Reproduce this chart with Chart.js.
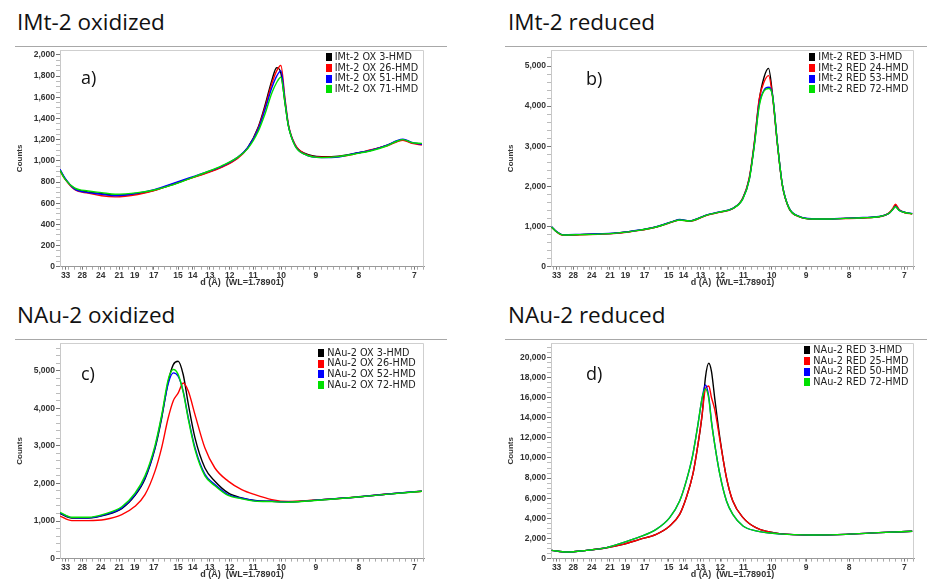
<!DOCTYPE html>
<html><head><meta charset="utf-8">
<script src="https://cdn.jsdelivr.net/npm/chart.js@4.4.0/dist/chart.umd.min.js"></script>
<style>
body{margin:0;background:#fff;width:927px;height:580px;overflow:hidden;position:relative;font-family:'Open Sans',sans-serif}
.title{position:absolute;font-size:22.5px;line-height:1;color:#111;white-space:nowrap}
.rule{position:absolute;height:0;border-top:1.5px solid #a8a8a8}
canvas{position:absolute}
.tag{position:absolute;font-size:18px;line-height:1;color:#111}
.legend{position:absolute;font-family:'DejaVu Sans',sans-serif;font-size:9.7px;color:#222}
.legend div{height:10.7px;line-height:10.7px;white-space:nowrap;display:flex;align-items:center}
.legend span.sw{display:inline-block;width:6px;height:8px;margin-right:3px}
</style></head><body>
<script>
// ---------------- data ----------------
const WL = 1.78901;
const dTickLabels = [33, 28, 24, 21, 19, 17, 15, 14, 13, 12, 11, 10, 9, 8, 7];
const seriesColors = ['#000000', '#ff0000', '#0000ff', '#00e000'];

// a) IMt-2 oxidized  (x = degrees 2-theta)
const namesA = ['IMt-2 OX 3-HMD', 'IMt-2 OX 26-HMD', 'IMt-2 OX 51-HMD', 'IMt-2 OX 71-HMD'];
const twoThetaA = [2.92,3.08,3.4,3.85,4.3,4.75,5.5,6.05,6.6,7.2,7.7,8.3,8.8,9.15,9.5,9.72,9.95,10.11,10.25,10.39,10.5,10.72,11.05,11.6,12.15,12.7,13.25,13.8,14.1,14.3,14.6,14.93];
const countsA3  = [915,835,740,705,690,675,690,722,770,832,880,945,1025,1125,1320,1520,1760,1880,1830,1540,1330,1150,1070,1040,1045,1070,1100,1150,1185,1200,1170,1160];
const countsA26 = [905,830,730,695,670,660,682,718,775,830,875,940,1020,1120,1310,1500,1730,1850,1900,1580,1345,1155,1065,1035,1040,1065,1105,1145,1180,1195,1165,1150];
const countsA51 = [920,840,735,700,685,670,695,728,780,838,885,950,1030,1125,1300,1480,1690,1800,1850,1560,1335,1145,1060,1030,1035,1070,1100,1150,1190,1205,1175,1155];
const countsA71 = [910,830,745,715,700,685,700,725,768,830,885,955,1030,1115,1280,1440,1640,1740,1790,1540,1330,1140,1060,1030,1040,1065,1095,1145,1185,1200,1172,1165];
const yTicksA = [0,200,400,600,800,1000,1200,1400,1600,1800,2000];

// b) IMt-2 reduced
const namesB = ['IMt-2 RED 3-HMD', 'IMt-2 RED 24-HMD', 'IMt-2 RED 53-HMD', 'IMt-2 RED 72-HMD'];
const twoThetaB = [2.94,3.11,3.33,3.88,4.5,4.99,5.5,5.87,6.3,6.64,7.0,7.2,7.53,8.08,8.52,8.97,9.3,9.52,9.68,9.85,10.01,10.16,10.29,10.46,10.62,10.84,11.18,11.62,12.2,12.73,13.3,13.83,14.16,14.3,14.38,14.51,14.7,14.94];
const countsB3  = [990,870,790,800,815,830,870,910,970,1040,1130,1170,1140,1280,1360,1450,1700,2200,3030,4150,4720,4940,4300,3030,2030,1460,1250,1190,1190,1205,1220,1245,1330,1440,1520,1410,1350,1320];
const countsB24 = [985,865,785,795,810,825,865,905,965,1035,1125,1160,1135,1275,1355,1445,1710,2230,3060,4180,4600,4760,4250,3010,2020,1450,1245,1185,1195,1200,1215,1240,1335,1460,1560,1420,1345,1315];
const countsB53 = [995,875,795,805,820,835,875,915,975,1045,1135,1175,1145,1285,1365,1455,1690,2180,3000,4050,4400,4470,4280,3040,2040,1465,1255,1195,1190,1210,1225,1250,1325,1430,1500,1405,1355,1325];
const countsB72 = [990,870,790,800,812,830,868,910,968,1040,1130,1165,1140,1280,1360,1450,1685,2170,2980,4000,4380,4440,4260,3030,2030,1460,1250,1190,1190,1205,1220,1245,1325,1430,1495,1400,1350,1320];
const yTicksB = [0,1000,2000,3000,4000,5000];

// c) NAu-2 oxidized
const namesC = ['NAu-2 OX 3-HMD', 'NAu-2 OX 26-HMD', 'NAu-2 OX 52-HMD', 'NAu-2 OX 72-HMD'];
const twoThetaC = [2.92,3.31,3.86,4.41,4.97,5.41,5.74,6.07,6.29,6.51,6.68,6.84,7.01,7.18,7.40,7.73,8.06,8.50,8.95,9.39,9.95,10.50,11.61,12.71,13.82,14.93];
const countsC3  = [1200,1080,1080,1160,1330,1680,2120,2920,3720,4700,5160,5250,4890,4100,3210,2410,2060,1750,1615,1545,1525,1510,1570,1635,1720,1790];
const countsC26 = [1130,1010,1010,1040,1170,1390,1700,2320,2940,3740,4200,4400,4670,4450,3830,2940,2410,2060,1835,1700,1570,1520,1565,1630,1720,1790];
const countsC52 = [1210,1090,1085,1170,1350,1700,2150,2950,3760,4650,4940,4850,4450,3740,2950,2240,1970,1700,1610,1540,1525,1505,1565,1630,1720,1795];
const countsC72 = [1230,1100,1100,1190,1380,1740,2200,3000,3800,4760,5030,4900,4420,3700,2900,2200,1940,1680,1590,1530,1515,1500,1560,1630,1715,1790];
const yTicksC = [0,1000,2000,3000,4000,5000];

// d) NAu-2 reduced
const namesD = ['NAu-2 RED 3-HMD', 'NAu-2 RED 25-HMD', 'NAu-2 RED 50-HMD', 'NAu-2 RED 72-HMD'];
const twoThetaD = [2.94,3.44,4.10,4.77,5.32,5.87,6.42,6.87,7.20,7.42,7.64,7.81,7.95,8.06,8.17,8.26,8.37,8.54,8.76,8.97,9.31,9.74,10.52,11.62,12.73,13.83,14.94];
const countsD3  = [820,660,820,1080,1420,1910,2410,3240,4390,6050,8360,11330,14310,18000,19400,18600,15900,12000,8030,5720,4070,3070,2480,2350,2410,2580,2720];
const countsD25 = [820,660,820,1080,1420,1910,2410,3240,4390,6050,8360,11330,14310,16900,17150,16000,14800,11800,8030,5720,4070,3070,2480,2350,2410,2580,2720];
const countsD50 = [820,660,820,1090,1590,2150,2900,4070,5720,7700,10340,13320,15960,17250,16100,13650,11330,8360,5720,4390,3240,2750,2460,2350,2410,2580,2720];
const countsD72 = [820,660,820,1090,1590,2150,2900,4070,5720,7700,10340,13320,15960,16850,15900,13550,11300,8340,5720,4390,3240,2750,2460,2350,2410,2580,2720];
const yTicksD = [0,2000,4000,6000,8000,10000,12000,14000,16000,18000,20000];

// ---------------- layout ----------------
const X0 = 2.92, X1 = 15.0;
const panels = [
  {title:'IMt-2 oxidized', tag:'a)', names:namesA, xs:twoThetaA, series:[countsA3,countsA26,countsA51,countsA71], yTicks:yTicksA, ymax:2047, minor:50,
   x:0, y:0, w:463, h:290, area:{l:60,t:50,r:424,b:266.7}, titleTop:11, titleLeft:17, rule:{l:15,r:447,y:46}, tagPos:{l:81,t:68}, leg:{l:325.7,t:52}},
  {title:'IMt-2 reduced', tag:'b)', names:namesB, xs:twoThetaB, series:[countsB3,countsB24,countsB53,countsB72], yTicks:yTicksB, ymax:5399, minor:200,
   x:463, y:0, w:464, h:290, area:{l:551,t:50,r:914,b:266.7}, titleTop:11, titleLeft:508, rule:{l:505,r:927,y:46}, tagPos:{l:586,t:69}, leg:{l:809.3,t:52}},
  {title:'NAu-2 oxidized', tag:'c)', names:namesC, xs:twoThetaC, series:[countsC3,countsC26,countsC52,countsC72], yTicks:yTicksC, ymax:5727, minor:200,
   x:0, y:290, w:463, h:290, area:{l:60,t:343.3,r:424,b:558.7}, titleTop:304, titleLeft:17, rule:{l:15,r:447,y:339}, tagPos:{l:81,t:364}, leg:{l:318.3,t:347.7}},
  {title:'NAu-2 reduced', tag:'d)', names:namesD, xs:twoThetaD, series:[countsD3,countsD25,countsD50,countsD72], yTicks:yTicksD, ymax:21418, minor:500,
   x:463, y:290, w:464, h:290, area:{l:551,t:343,r:914,b:559}, titleTop:304, titleLeft:508, rule:{l:505,r:927,y:339}, tagPos:{l:586,t:364}, leg:{l:804.3,t:345}}
];

function tth(d){ return 2*Math.asin(WL/(2*d))*180/Math.PI; }

const frame = {id:'frame', afterDraw(ch){
  const a = ch.chartArea, ctx = ch.ctx;
  ctx.save(); ctx.strokeStyle = '#cfcfcf'; ctx.lineWidth = 1;
  ctx.beginPath(); ctx.moveTo(a.left, Math.round(a.top)+0.5); ctx.lineTo(Math.round(a.right)-0.5, Math.round(a.top)+0.5);
  ctx.lineTo(Math.round(a.right)-0.5, a.bottom); ctx.stroke(); ctx.restore();
}};

const tickFont = {family:"'Liberation Sans', Arial, sans-serif", size:8.5, weight:'bold'};

function el(cls, txt, css){ const e=document.createElement('div'); e.className=cls; if(txt) e.textContent=txt; Object.assign(e.style, css); document.body.appendChild(e); return e; }

panels.forEach(p => {
  el('title', p.title, {left:p.titleLeft+'px', top:p.titleTop+'px'});
  el('rule', '', {left:p.rule.l+'px', top:p.rule.y+'px', width:(p.rule.r-p.rule.l)+'px'});
  const c = document.createElement('canvas');
  c.width = p.w; c.height = p.h; c.style.left = p.x+'px'; c.style.top = p.y+'px';
  document.body.appendChild(c);
  const YW = 50, XH = 21.4;
  const pad = {left:p.area.l-p.x-YW, top:p.area.t-p.y, right:p.x+p.w-p.area.r, bottom:Math.max(0, p.y+p.h-p.area.b-XH)};
  new Chart(c, {
    type:'line',
    data:{datasets:p.series.map((s,i)=>({label:p.names[i], data:p.xs.map((x,j)=>({x:x, y:s[j]})),
      borderColor:seriesColors[i], backgroundColor:seriesColors[i], borderWidth:1.4, pointRadius:0, order:3-i, cubicInterpolationMode:'monotone', fill:false}))},
    options:{
      responsive:false, animation:false, devicePixelRatio:1,
      layout:{padding:pad},
      plugins:{legend:{display:false}, tooltip:{enabled:false}},
      scales:{
        x:{type:'linear', min:X0, max:X1,
          afterFit:s=>{s.height=XH;},
          afterBuildTicks:s=>{
            const t=[];
            for(let v=3.0; v<=15.0001; v+=0.2) t.push({value:v, major:false});
            dTickLabels.forEach(d=>t.push({value:tth(d), major:true, lbl:String(d)}));
            s.ticks=t;
          },
          ticks:{autoSkip:false, maxRotation:0, minRotation:0, padding:1, font:tickFont, color:'#333', callback:(v,i,t)=>t[i].lbl||''},
          grid:{drawOnChartArea:false, drawTicks:true, tickLength:3, tickColor:ctx=>ctx.tick&&ctx.tick.major?'#777':'#aaa'},
          border:{color:'#999', width:1},
          title:{display:true, text:'d (Å)  (WL=1.78901)', color:'#333', font:{family:"'Liberation Sans', Arial, sans-serif", size:9, weight:'bold'}, padding:{top:0,bottom:0}}
        },
        y:{type:'linear', min:0, max:p.ymax,
          afterFit:s=>{s.width=YW;},
          afterBuildTicks:s=>{
            const t=[];
            for(let v=0; v<=p.ymax; v+=p.minor) t.push({value:v, major:false});
            p.yTicks.forEach(v=>t.push({value:v, major:true, lbl:v.toLocaleString('en-US')}));
            s.ticks=t;
          },
          ticks:{autoSkip:false, padding:1, font:tickFont, color:'#333', callback:(v,i,t)=>t[i].lbl||''},
          grid:{drawOnChartArea:false, drawTicks:true, tickLength:4, tickColor:ctx=>ctx.tick&&ctx.tick.major?'#777':'#bbb'},
          border:{color:'#c8c8c8', width:1},
          title:{display:true, text:'Counts', color:'#333', font:{family:"'Liberation Sans', Arial, sans-serif", size:8, weight:'bold'}, padding:{top:5,bottom:0}}
        }
      }
    },
    plugins:[frame]
  });
  el('tag', p.tag, {left:p.tagPos.l+'px', top:p.tagPos.t+'px'});
  const lg = el('legend', '', {left:p.leg.l+'px', top:p.leg.t+'px'});
  p.names.forEach((n,i)=>{
    const row=document.createElement('div');
    const sw=document.createElement('span'); sw.className='sw'; sw.style.background=seriesColors[i];
    row.appendChild(sw); row.appendChild(document.createTextNode(n)); lg.appendChild(row);
  });
});
</script>
</body></html>
